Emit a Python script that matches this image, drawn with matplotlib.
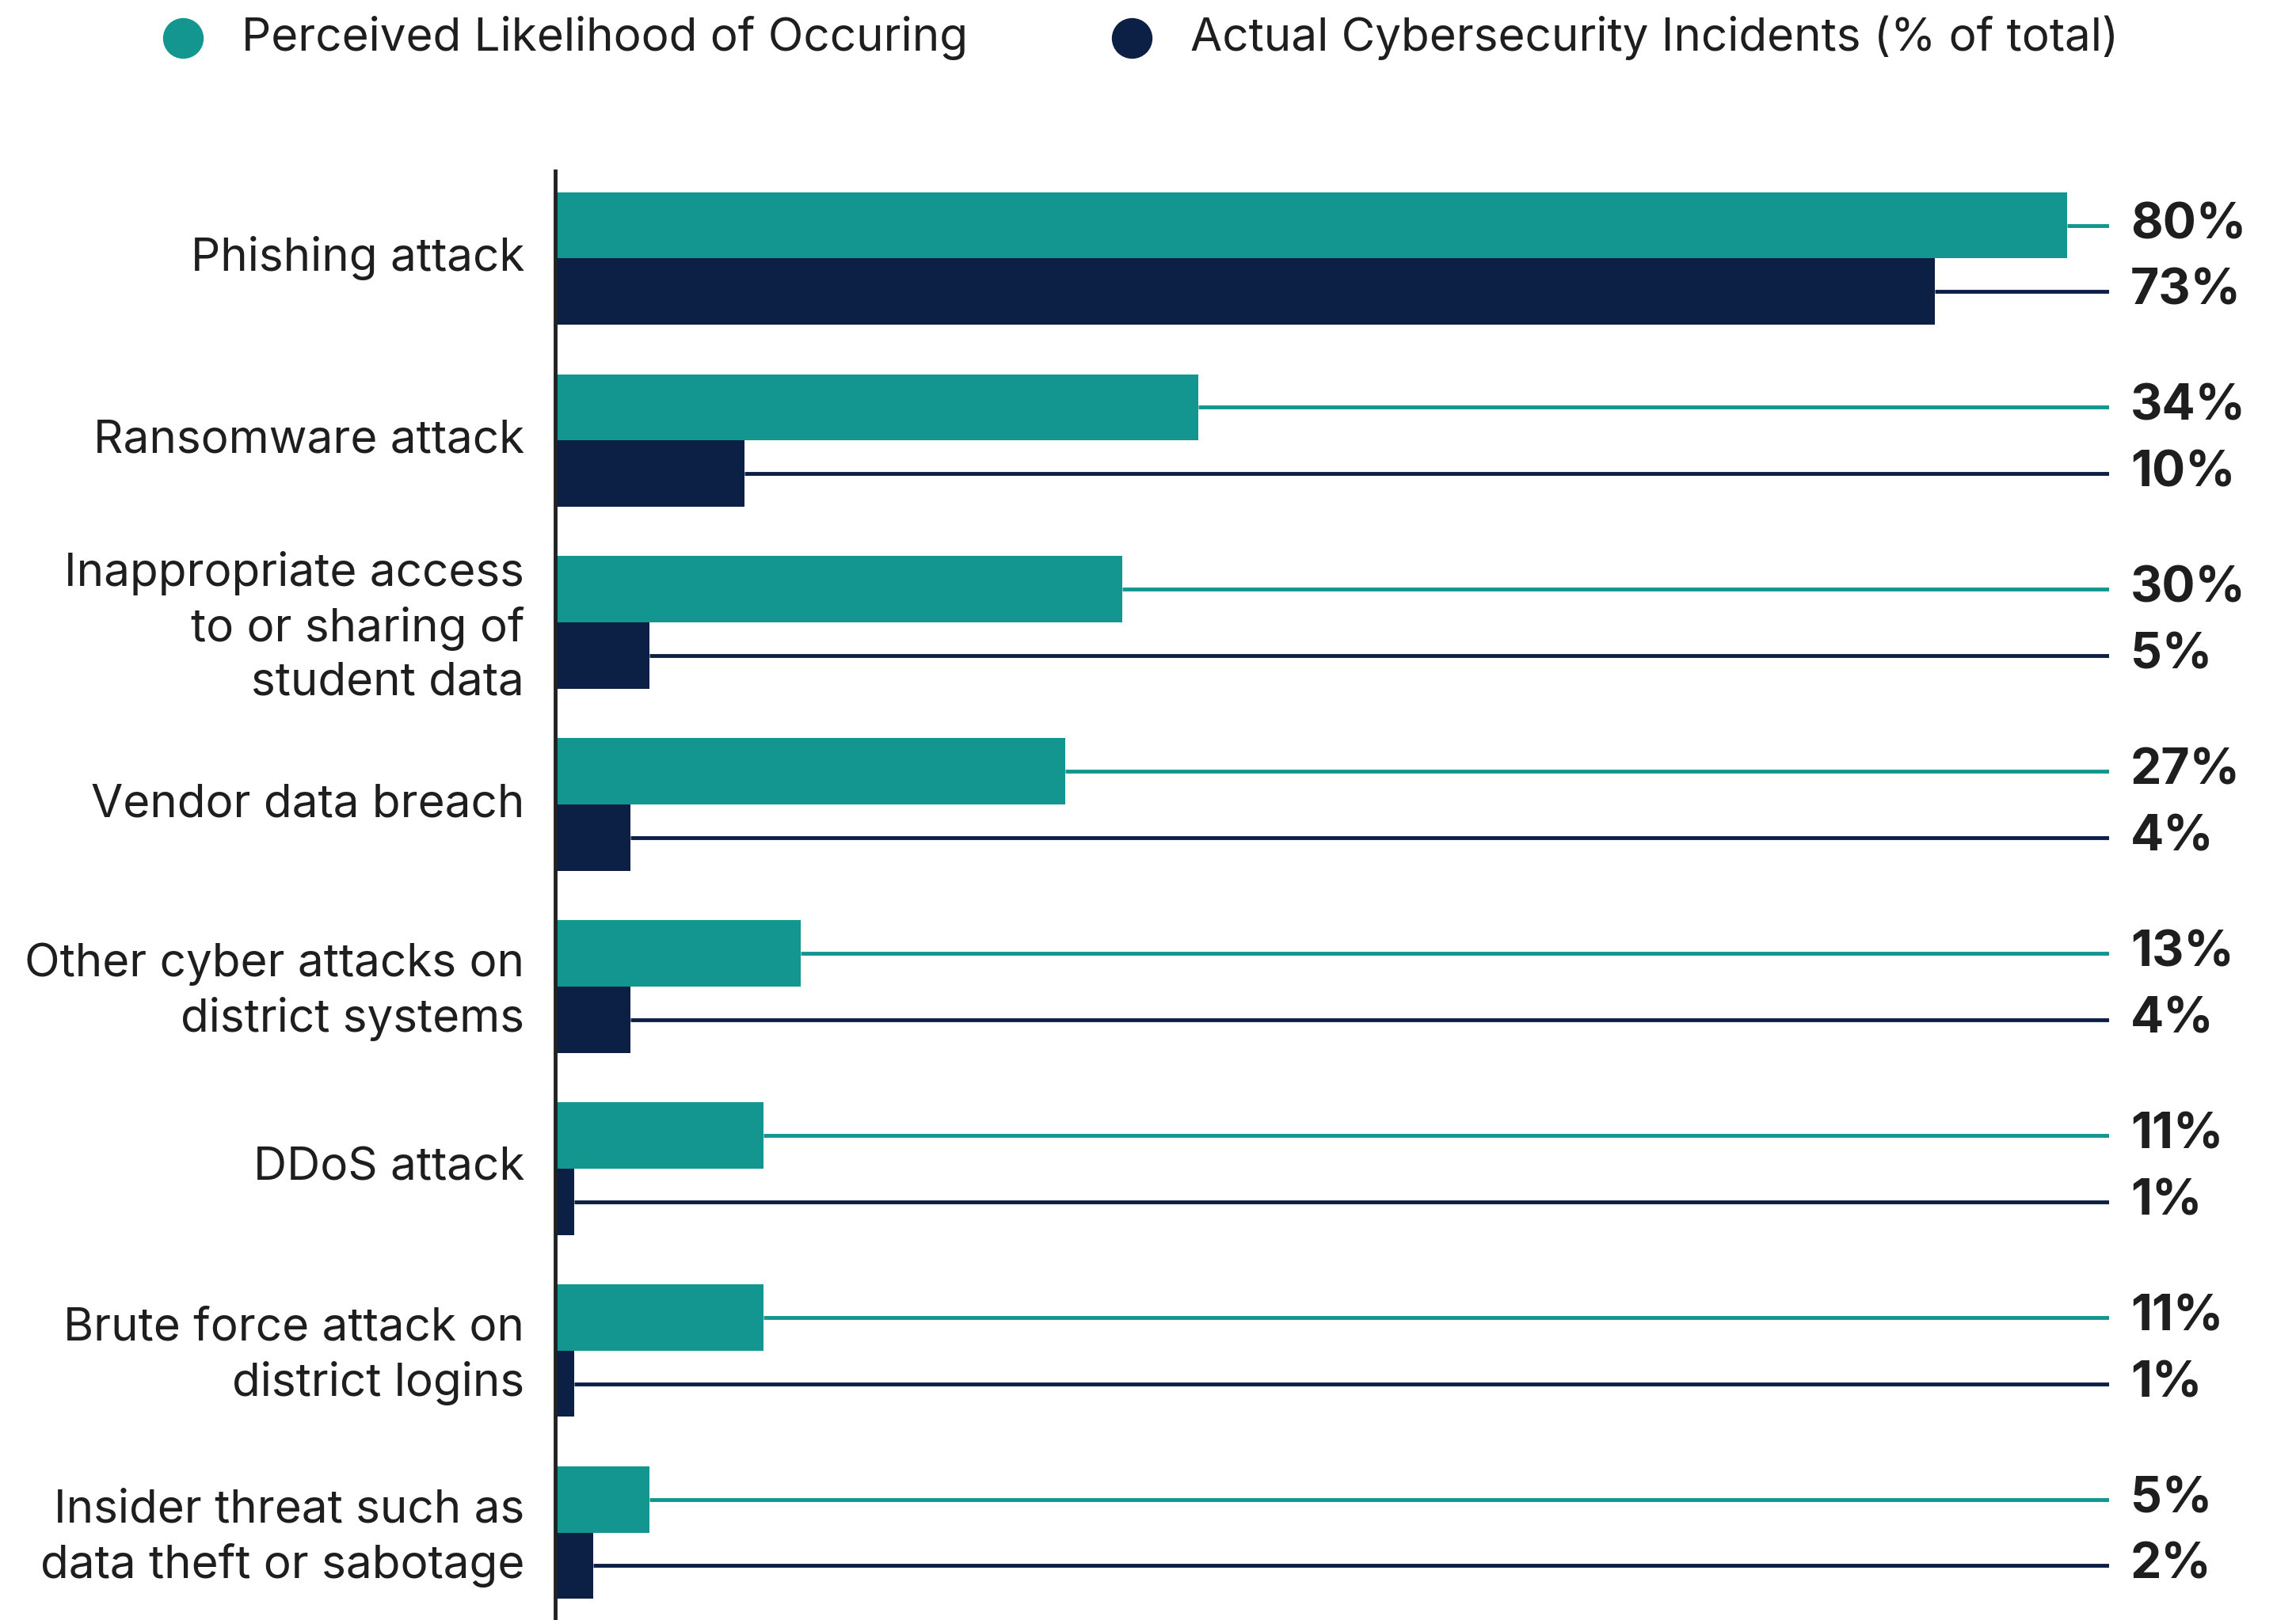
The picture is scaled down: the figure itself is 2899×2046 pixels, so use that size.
import matplotlib.pyplot as plt
import matplotlib.transforms as mtransforms
from matplotlib.lines import Line2D

plt.rcParams['font.family'] = ['Inter', 'DejaVu Sans']

# Threat categories, top to bottom
categories = [
    "Phishing attack",
    "Ransomware attack",
    "Inappropriate access\nto or sharing of\nstudent data",
    "Vendor data breach",
    "Other cyber attacks on\ndistrict systems",
    "DDoS attack",
    "Brute force attack on\ndistrict logins",
    "Insider threat such as\ndata theft or sabotage",
]
perceived = [80, 34, 30, 27, 13, 11, 11, 5]
actual = [73, 10, 5, 4, 4, 1, 1, 2]

series_names = ["Perceived Likelihood of Occuring",
                "Actual Cybersecurity Incidents (% of total)"]
teal = "#12968f"
navy = "#0c1f45"
ink = "#1e1e1e"

W, H = 2899, 2046
fig = plt.figure(figsize=(W / 100, H / 100), dpi=100)
ax = fig.add_axes([701 / W, 0, (2663 - 701) / W, 1 - 216 / H])

bar_h = 0.364
xmax = 82.2

for i, (p, a) in enumerate(zip(perceived, actual)):
    for val, off, col in ((p, -bar_h / 2, teal), (a, bar_h / 2, navy)):
        y = i + off
        ax.barh(y, val, height=bar_h, color=col, linewidth=0)
        # leader line from bar end to the value label
        ax.plot([val, xmax], [y, y], color=col, lw=3.5, solid_capstyle="butt")
        ax.annotate(f"{val}%", xy=(xmax, y), xytext=(27, 0),
                    textcoords="offset pixels", ha="left", va="center",
                    fontsize=45, fontweight="bold", color=ink,
                    annotation_clip=False)

ax.set_xlim(0, xmax)
ax.set_ylim(len(categories) - 0.52, -0.48)
ax.set_yticks(range(len(categories)))
ax.set_yticklabels(categories, fontsize=42, color=ink, linespacing=1.32)
ax.tick_params(axis="y", length=0, pad=28)
# nudge the category labels up a little
lift = mtransforms.ScaledTranslation(0, 6 / 100, fig.dpi_scale_trans)
for lbl in ax.get_yticklabels():
    lbl.set_transform(lbl.get_transform() + lift)
ax.set_xticks([])
for side in ("top", "right", "bottom"):
    ax.spines[side].set_visible(False)
ax.spines["left"].set_color("#222222")
ax.spines["left"].set_linewidth(3.5)

# legend row: dot + label for each series
legend_y = 1 - 48 / H
for name, col, x_dot in zip(series_names, (teal, navy), (231, 1429)):
    fig.add_artist(Line2D([x_dot / W], [legend_y], transform=fig.transFigure,
                          marker="o", markersize=37, markerfacecolor=col,
                          markeredgewidth=0, linestyle="none"))
    fig.text((x_dot + 74) / W, legend_y, name, fontsize=42, color=ink,
             ha="left", va="center")

fig.savefig("out.png", dpi=100)
